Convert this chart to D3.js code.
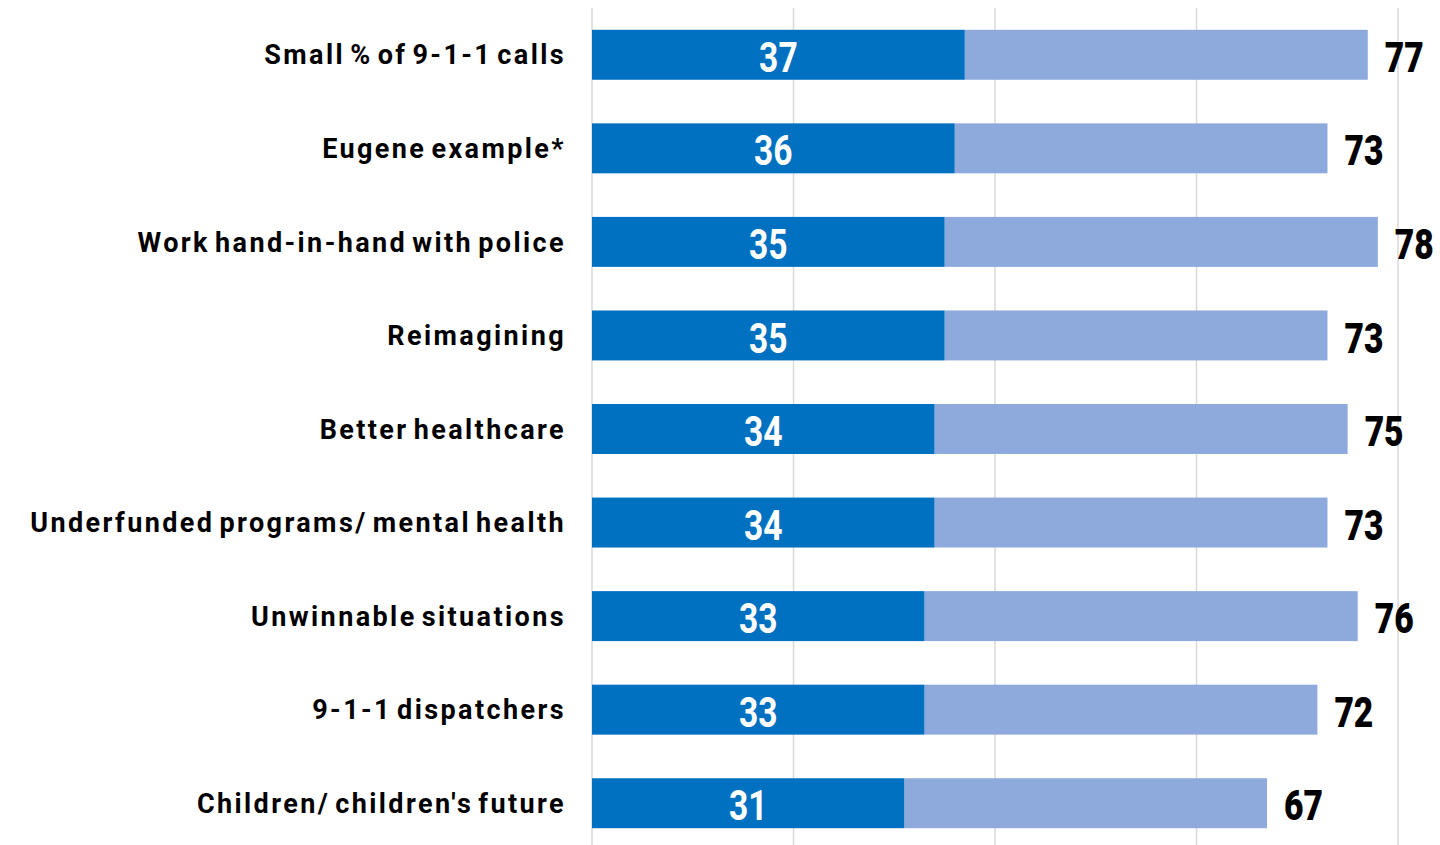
<!DOCTYPE html>
<html>
<head>
<meta charset="utf-8">
<script src="https://cdn.jsdelivr.net/npm/d3@7"></script>
<style>
  html, body { margin: 0; padding: 0; background: #ffffff; }
  svg { display: block; }
</style>
</head>
<body>
<svg id="chart" width="1440" height="845"></svg>
<script>
// Statements and their scores: first value vs. total value
const categories = [
  "Small % of 9-1-1 calls",
  "Eugene example*",
  "Work hand-in-hand with police",
  "Reimagining",
  "Better healthcare",
  "Underfunded programs/ mental health",
  "Unwinnable situations",
  "9-1-1 dispatchers",
  "Children/ children's future"
];
const firstValues = [37, 36, 35, 35, 34, 34, 33, 33, 31];
const totalValues = [77, 73, 78, 73, 75, 73, 76, 72, 67];
const gridTicks = [0, 20, 40, 60, 80];

const W = 1440, H = 845;
const svg = d3.select("#chart");

const x = d3.scaleLinear().domain([0, 80]).range([592, 1398]);
const y = d3.scaleBand()
  .domain(categories)
  .range([8, 850])
  .paddingInner(0.466)
  .paddingOuter(0.233);

const rows = categories.map((c, i) => ({ cat: c, first: firstValues[i], total: totalValues[i] }));
const midY = d => y(d.cat) + y.bandwidth() / 2;

// vertical gridlines
svg.append("g")
  .selectAll("line")
  .data(gridTicks)
  .join("line")
  .attr("x1", d => x(d)).attr("x2", d => x(d))
  .attr("y1", 8).attr("y2", H)
  .attr("stroke", "#d9d9d9")
  .attr("stroke-width", 1.5);

// total bars (light)
svg.append("g")
  .selectAll("rect")
  .data(rows)
  .join("rect")
  .attr("x", d => x(d.first))
  .attr("y", d => y(d.cat))
  .attr("width", d => x(d.total) - x(d.first))
  .attr("height", y.bandwidth())
  .attr("fill", "#8eaadc");

// first-value bars (dark)
svg.append("g")
  .selectAll("rect")
  .data(rows)
  .join("rect")
  .attr("x", x(0))
  .attr("y", d => y(d.cat))
  .attr("width", d => x(d.first) - x(0))
  .attr("height", y.bandwidth())
  .attr("fill", "#0070c0");

// category labels
svg.append("g")
  .selectAll("text")
  .data(rows)
  .join("text")
  .attr("x", 566)
  .attr("y", midY)
  .attr("dy", "0.36em")
  .attr("text-anchor", "end")
  .attr("font-family", "Roboto, 'Noto Sans', sans-serif")
  .attr("font-weight", 700)
  .attr("font-size", 27)
  .attr("letter-spacing", 2.4)
  .attr("word-spacing", -4)
  .attr("fill", "#000")
  .text(d => d.cat);

// condensed numeric labels: drawn at origin, then placed and narrowed
const condensed = 0.8;

// value labels inside dark bars
svg.append("g")
  .selectAll("text")
  .data(rows)
  .join("text")
  .attr("transform", d => `translate(${(x(0) + x(d.first)) / 2},${midY(d) + 2}) scale(${condensed},1)`)
  .attr("dy", "0.36em")
  .attr("text-anchor", "middle")
  .attr("font-family", "Roboto, sans-serif")
  .attr("font-weight", 700)
  .attr("font-size", 42)
  .attr("fill", "#ffffff")
  .text(d => d.first);

// total labels at bar ends
svg.append("g")
  .selectAll("text")
  .data(rows)
  .join("text")
  .attr("transform", d => `translate(${x(d.total) + 17},${midY(d) + 2}) scale(${condensed},1)`)
  .attr("dy", "0.36em")
  .attr("text-anchor", "start")
  .attr("font-family", "Roboto, sans-serif")
  .attr("font-weight", 900)
  .attr("font-size", 42)
  .attr("fill", "#000000")
  .text(d => d.total);
</script>
</body>
</html>
